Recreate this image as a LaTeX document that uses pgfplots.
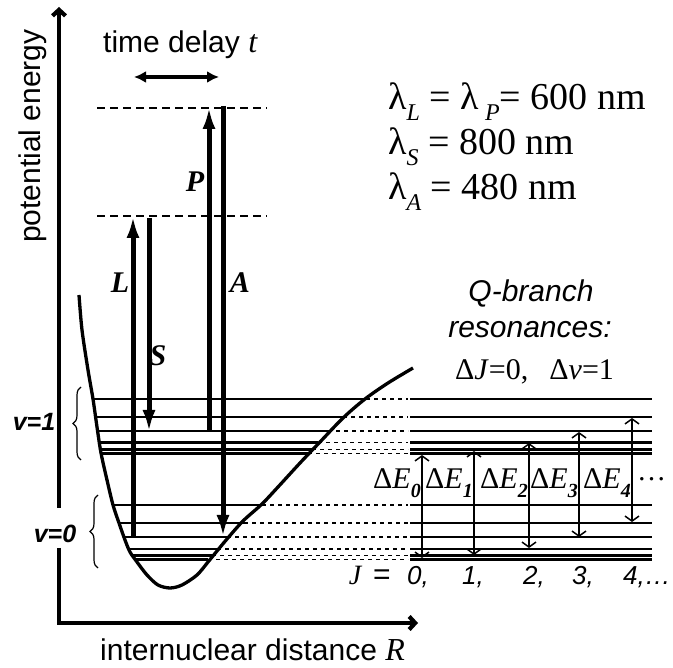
\documentclass[border=0pt]{standalone}
\usepackage{pgfplots}
\pgfplotsset{compat=1.18}
\usetikzlibrary{arrows.meta,decorations.pathreplacing}
\usepackage{fontspec}
\setmainfont{Liberation Serif}
\setsansfont{Liberation Sans}
\newcommand{\fs}[1]{\fontsize{#1}{#1}\selectfont}
\newcommand{\lsub}[1]{\raisebox{-0.28em}{\fs{24}\itshape #1}}
\newcommand{\esub}[1]{\raisebox{-0.28em}{\fs{20}\itshape\bfseries #1}}
\newcommand{\lev}[3]{%
  \addplot[line width=2.5pt] coordinates {(#2,#1) (#3,#1)};
  \addplot[line width=1.5pt, dash pattern=on 4pt off 4pt] coordinates {(#3,#1) (408,#1)};
  \addplot[line width=2.5pt] coordinates {(410,#1) (652,#1)};}
\begin{document}
\begin{tikzpicture}
\begin{axis}[x=1pt,y=1pt,y dir=reverse,xmin=0,xmax=673,ymin=0,ymax=668,
  hide axis,clip=false,scale only axis]
\addplot[draw=none] coordinates {(0,0) (673,668)};
% axes
\addplot[line width=4.2pt, -{Straight Barb[length=6pt,width=13pt]}] coordinates {(59,548) (59,623) (418,623)};
\addplot[line width=4.2pt, -{Straight Barb[length=6pt,width=13pt]}] coordinates {(59,508) (59,7)};
% levels v=1
\lev{399}{93}{366}
\lev{417}{95.5}{343}
\lev{431}{98}{328}
\lev{442.5}{100}{318}
\lev{449.5}{101}{312}
\lev{453.5}{102}{308}
% levels v=0
\lev{505}{113}{262}
\lev{523}{119}{244}
\lev{537}{124.5}{227}
\lev{549}{129}{217}
\lev{555.5}{132.5}{212}
\lev{559.5}{135}{208}
% potential curve
\addplot[line width=3.3pt, smooth, tension=0.5] coordinates {
(79,295) (82,330) (88,370) (93,399) (97,427) (101,453) (107,480) (113,505)
(119,523) (125,540) (130,552) (137,562) (147,575) (158,585) (170,588)
(182,585) (197,575) (208,562) (217,551) (227,539) (243,521) (262,504)
(278,487) (300,463) (320,442) (343,418) (365,399) (388,383) (413,368)};
% virtual levels
\addplot[line width=2.5pt, dash pattern=on 8pt off 5pt] coordinates {(97,108) (267,108)};
\addplot[line width=2.5pt, dash pattern=on 8pt off 5pt] coordinates {(97,216) (267,216)};
% laser arrows
\addplot[line width=5pt, -{Latex[length=22pt,width=13pt]}] coordinates {(133,537) (133,216)};
\addplot[line width=5pt, -{Latex[length=22pt,width=13pt]}] coordinates {(149,218) (149,432)};
\addplot[line width=5pt, -{Latex[length=22pt,width=13pt]}] coordinates {(209,431) (209,107)};
\addplot[line width=5pt, -{Latex[length=22pt,width=13pt]}] coordinates {(223,106) (223,537)};
% time delay arrow
\addplot[line width=4.2pt, {Latex[length=12pt,width=12pt]}-{Latex[length=12pt,width=12pt]}] coordinates {(134,77) (219,77)};
% Delta E arrows
\addplot[line width=1.5pt, {Straight Barb[length=5pt,width=14pt]}-{Straight Barb[length=5pt,width=14pt]}] coordinates {(422,455) (422,558)};
\addplot[line width=1.5pt, {Straight Barb[length=5pt,width=14pt]}-{Straight Barb[length=5pt,width=14pt]}] coordinates {(474,451) (474,555)};
\addplot[line width=1.5pt, {Straight Barb[length=5pt,width=14pt]}-{Straight Barb[length=5pt,width=14pt]}] coordinates {(529,443) (529,548)};
\addplot[line width=1.5pt, {Straight Barb[length=5pt,width=14pt]}-{Straight Barb[length=5pt,width=14pt]}] coordinates {(579,432) (579,537)};
\addplot[line width=1.5pt, {Straight Barb[length=5pt,width=14pt]}-{Straight Barb[length=5pt,width=14pt]}] coordinates {(632,418) (632,522)};
% braces
\draw[decorate,decoration={brace,amplitude=8pt},line width=1.2pt] (81,460) -- (81,387);
\draw[decorate,decoration={brace,amplitude=8pt},line width=1.2pt] (98,568) -- (98,495);
% texts
\node[anchor=base west,inner sep=0,font=\sffamily\fs{30}] at (103,53) {time delay {\rmfamily\itshape\fs{32}t}};
\node[anchor=base west,rotate=90,inner sep=0,font=\sffamily\fs{30}] at (40,243) {potential energy};
\node[anchor=base west,inner sep=0,font=\sffamily\fs{30}] at (100,660) {internuclear distance {\rmfamily\itshape\fs{32}R}};
\node[anchor=base west,inner sep=0,font=\fs{38}] at (388,110) {λ\lsub{L} = λ\,\lsub{P}= 600 nm};
\node[anchor=base west,inner sep=0,font=\fs{38}] at (388,155) {λ\lsub{S} = 800 nm};
\node[anchor=base west,inner sep=0,font=\fs{38}] at (388,200) {λ\lsub{A} = 480 nm};
\node[anchor=base,inner sep=0,font=\sffamily\itshape\fs{30}] at (531,302) {Q-branch};
\node[anchor=base,inner sep=0,font=\sffamily\itshape\fs{30}] at (530,338) {resonances:};
\node[anchor=base west,inner sep=0,font=\fs{30}] at (455,380) {Δ\textit{J}=0,\hspace{0.7em}Δ\textit{v}=1};
\node[anchor=base,inner sep=0,font=\sffamily\itshape\bfseries\fs{25}] at (34,431) {v=1};
\node[anchor=base,inner sep=0,font=\sffamily\itshape\bfseries\fs{25}] at (55,543) {v=0};
\node[inner sep=0,font=\rmfamily\itshape\bfseries\fs{30}] at (195,182) {P};
\node[inner sep=0,font=\rmfamily\itshape\bfseries\fs{30}] at (120,283) {L};
\node[inner sep=0,font=\rmfamily\itshape\bfseries\fs{30}] at (240,283) {A};
\node[inner sep=0,font=\rmfamily\itshape\bfseries\fs{30}] at (158,356) {S};
\node[anchor=base east,inner sep=0,font=\fs{30}] at (421,489) {Δ\textit{E}\esub{0}};
\node[anchor=base east,inner sep=0,font=\fs{30}] at (473,489) {Δ\textit{E}\esub{1}};
\node[anchor=base east,inner sep=0,font=\fs{30}] at (528,489) {Δ\textit{E}\esub{2}};
\node[anchor=base east,inner sep=0,font=\fs{30}] at (578,489) {Δ\textit{E}\esub{3}};
\node[anchor=base east,inner sep=0,font=\fs{30}] at (631,489) {Δ\textit{E}\esub{4}};
\node[anchor=base west,inner sep=0,font=\fs{29}] at (637,481) {…};
\node[anchor=base,inner sep=0,font=\rmfamily\itshape\fs{28}] at (355,585) {J};
\node[anchor=base,inner sep=0,font=\sffamily\fs{30}] at (382,585) {=};
\node[anchor=base west,inner sep=0,font=\sffamily\itshape\fs{26}] at (407,585) {0,};
\node[anchor=base west,inner sep=0,font=\sffamily\itshape\fs{26}] at (462,585) {1,};
\node[anchor=base west,inner sep=0,font=\sffamily\itshape\fs{26}] at (523,585) {2,};
\node[anchor=base west,inner sep=0,font=\sffamily\itshape\fs{26}] at (572,585) {3,};
\node[anchor=base west,inner sep=0,font=\sffamily\itshape\fs{26}] at (623,585) {4,…};
\end{axis}
\end{tikzpicture}
\end{document}
